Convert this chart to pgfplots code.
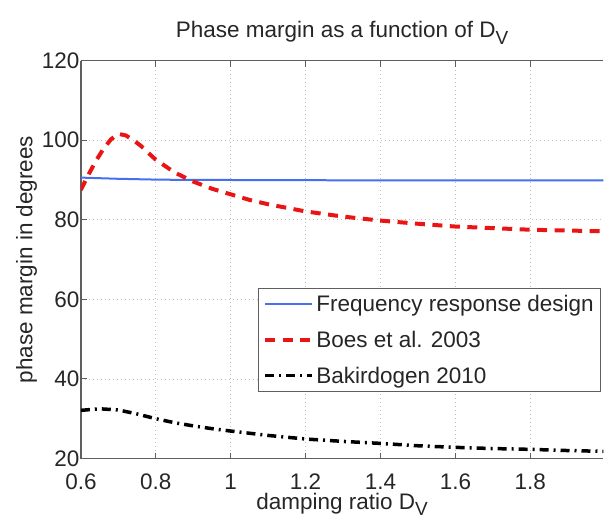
\documentclass[border=0pt]{standalone}
\usepackage{fontspec}
\setmainfont{Liberation Sans}
\usepackage{pgfplots}
\pgfplotsset{compat=1.18}
\definecolor{mblue}{RGB}{70,110,240}
\definecolor{mred}{RGB}{235,20,20}
\definecolor{axgray}{RGB}{95,95,95}
\definecolor{gridgray}{RGB}{190,190,190}
\newcommand{\sub}[1]{\raisebox{-0.55ex}{\fontsize{19}{19}\selectfont #1}}
\begin{document}
\begin{tikzpicture}
\begin{axis}[
  name=ax,
  width=523pt, height=398.3pt, scale only axis,
  xmin=0.6, xmax=1.995, ymin=20, ymax=120,
  axis x line*=box, axis y line*=left,
  xtick={0.6,0.8,1,1.2,1.4,1.6,1.8},
  ytick={20,40,60,80,100,120},
  /pgf/number format/assume math mode=true,
  tick label style={font=\fontsize{22.5}{26}\selectfont, text=black!85},
  yticklabel style={xshift=2pt},
  xticklabel style={yshift=-12pt},
  tick align=inside,
  major tick length=6pt,
  tick style={axgray, line width=1pt},
  axis line style={axgray, line width=1.3pt, -},
  grid=major,
  major grid style={gridgray, dash pattern=on 1pt off 3pt, line width=0.7pt},
  title={Phase margin as a function of D\sub{V}},
  title style={font=\fontsize{22.5}{26}\selectfont, text=black!85, yshift=7pt},
  xlabel={damping ratio D\sub{V}},
  ylabel={phase margin in degrees},
  label style={font=\fontsize{22.5}{26}\selectfont, text=black!85},
  xlabel style={inner sep=0pt, yshift=0.5pt},
  ylabel style={yshift=-2pt},
  legend cell align=left,
  legend style={at={(axis description cs:0.996,0.429)}, anchor=north east,
    font=\fontsize{22.5}{26}\selectfont, text=black!85, draw=axgray, line width=1pt,
    row sep=14pt, inner xsep=5pt, inner ysep=5pt, fill=white},
  legend image code/.code={\draw[#1] (0pt,0pt) -- (47pt,0pt);},
]
\addplot[mblue, line width=2pt] coordinates {
(0.60,90.6) (0.65,90.45) (0.70,90.3) (0.75,90.2) (0.80,90.1) (0.90,90.0) (1.00,90.0)
(1.20,89.95) (1.40,89.9) (1.60,89.9) (1.80,89.9) (1.995,89.9)};
\addlegendentry{Frequency response design}
\addplot[mred, line width=4pt, dash pattern=on 10pt off 7.5pt] coordinates {
(0.60,87.5) (0.62,91.3) (0.64,94.8) (0.66,97.8) (0.68,100.2) (0.70,101.6)
(0.72,101.2) (0.74,100.0) (0.76,98.6) (0.78,96.8) (0.80,95.1) (0.85,91.9)
(0.90,89.6) (0.95,87.8) (1.00,86.4) (1.05,85.0) (1.10,83.9) (1.20,82.1)
(1.30,80.8) (1.40,79.8) (1.50,79.0) (1.60,78.3) (1.70,77.9) (1.80,77.5)
(1.90,77.3) (1.995,77.1)};
\addlegendentry{Boes et al. 2003}
\addplot[black, line width=3.5pt, dash pattern=on 9pt off 5pt on 2pt off 5pt] coordinates {
(0.60,32.1) (0.65,32.5) (0.70,32.2) (0.75,31.2) (0.80,30.0) (0.85,29.0)
(0.90,28.2) (0.95,27.5) (1.00,26.9) (1.10,25.8) (1.20,24.9) (1.30,24.3)
(1.40,23.8) (1.50,23.2) (1.60,22.8) (1.70,22.5) (1.80,22.3) (1.90,22.0) (1.995,21.8)};
\addlegendentry{Bakirdogen 2010}
\end{axis}
\path (ax.south west) ++(-81pt,-57pt);
\path (ax.north east) ++(0pt,60.7pt);
\end{tikzpicture}
\end{document}
